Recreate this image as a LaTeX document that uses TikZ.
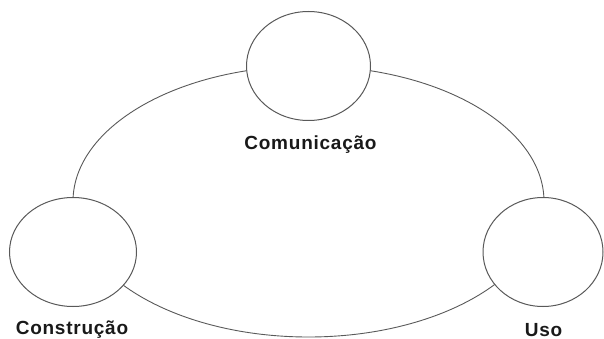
\documentclass[tikz,border=0pt]{standalone}
\usepackage{fontspec}
\setmainfont{Liberation Sans}[LetterSpace=4]
\usetikzlibrary{shapes.geometric,positioning}

\tikzset{
  phase/.style={draw=black!65, line width=1pt, fill=white, ellipse,
    minimum width=124pt, minimum height=109pt, inner sep=0pt},
  phaselabel/.style={font=\fontsize{19}{22}\selectfont\bfseries, text=black!90, inner sep=0pt},
  cycle/.style={draw=black!65, line width=0.9pt, ellipse, inner sep=0pt},
}

\begin{document}
\begin{tikzpicture}[x=1pt,y=-1pt]
  \useasboundingbox (0,0) rectangle (604,339);

  % the cycle behind the three phases
  \node[cycle, minimum width=471pt, minimum height=271pt] (ciclo) at (308.5,201.5) {};

  \node[phase] (com) at (308.5,66) {};
  \node[phase, minimum width=127pt] (cons) at (73,252) {};
  \node[phase, minimum width=120pt] (uso) at (543,252) {};

  \node[phaselabel] (comtext) at (310.5,145) {Comunicação};
  \node[phaselabel] (constext) at (72,330) {Construção};
  \node[phaselabel] (usotext) at (543.5,330) {Uso};
\end{tikzpicture}
\end{document}
